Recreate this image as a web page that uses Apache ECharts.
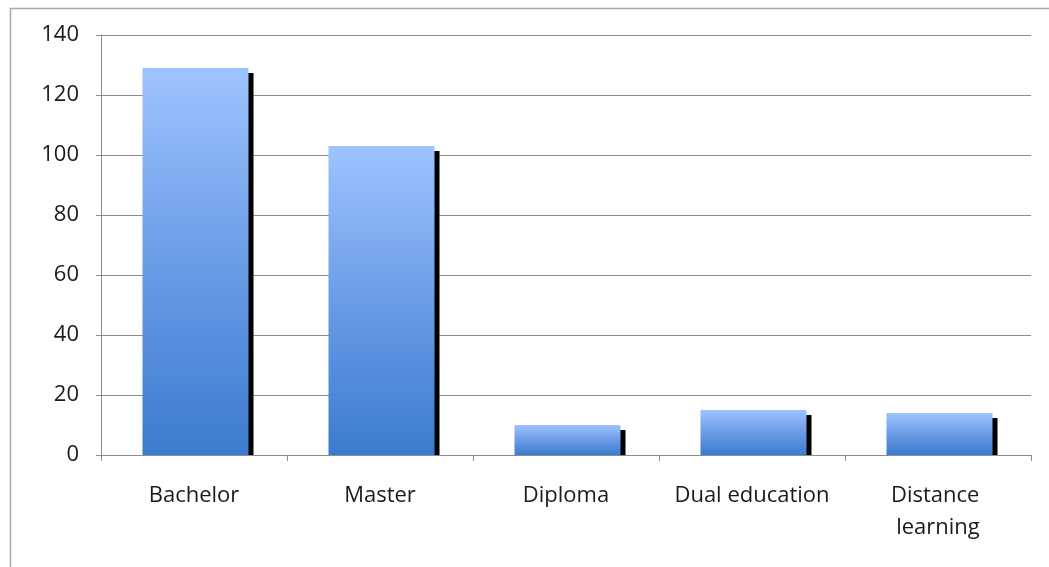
<!DOCTYPE html>
<html>
<head>
<meta charset="utf-8">
<script src="https://cdn.jsdelivr.net/npm/echarts@6/dist/echarts.min.js"></script>
<style>
html,body{margin:0;padding:0;background:#fff;}
#chart{width:1049px;height:567px;}
</style>
</head>
<body>
<div id="chart"></div>
<script>
const categories = ["Bachelor", "Master", "Diploma", "Dual education", "Distance learning"];
const values = [129, 103, 10, 15, 14];
const yTicks = { min: 0, max: 140, interval: 20 };

const chart = echarts.init(document.getElementById('chart'), null, { renderer: 'canvas' });

const FONT = '"Open Sans", Lato, sans-serif';

chart.setOption({
  backgroundColor: '#ffffff',
  animation: false,
  graphic: [{
    type: 'rect',
    left: 8, top: 6,
    shape: { x: 0, y: 0, width: 1100, height: 700 },
    style: { fill: 'none', stroke: '#a8a8a8', lineWidth: 1.5 },
    z: -1, silent: true
  }],
  grid: { left: 101, right: 18, top: 35, bottom: 112, containLabel: false },
  xAxis: {
    type: 'category',
    data: categories,
    boundaryGap: true,
    axisLine: { show: true, lineStyle: { color: '#8c8c8c', width: 1 } },
    axisTick: { show: true, length: 6, lineStyle: { color: '#8c8c8c' } },
    axisLabel: {
      color: '#1a1a1a', fontFamily: FONT, fontSize: 22, margin: 25,
      lineHeight: 32, width: 168, overflow: 'break', interval: 0
    },
    splitLine: { show: false }
  },
  yAxis: {
    type: 'value',
    min: yTicks.min, max: yTicks.max, interval: yTicks.interval,
    axisLine: { show: true, lineStyle: { color: '#8c8c8c', width: 1 } },
    axisTick: { show: true, length: 5, lineStyle: { color: '#8c8c8c' } },
    axisLabel: { color: '#1a1a1a', fontFamily: FONT, fontSize: 22, margin: 22 },
    splitLine: { show: true, lineStyle: { color: '#8c8c8c', width: 1 } }
  },
  series: [{
    type: 'custom',
    data: values.map((v, i) => [i, v]),
    encode: { x: 0, y: 1 },
    renderItem: function (params, api) {
      const i = api.value(0), v = api.value(1);
      const top = api.coord([i, v]);
      const base = api.coord([i, 0]);
      const band = api.size([1, 0])[0];
      const w = band * 0.57;
      const x = top[0] - w / 2 + 1.5;
      const h = base[1] - top[1];
      const sh = 5;
      return {
        type: 'group',
        children: [
          {
            type: 'rect',
            shape: { x: x + sh, y: top[1] + sh, width: w, height: Math.max(0, h - sh) },
            style: { fill: '#000000' }
          },
          {
            type: 'rect',
            shape: { x: x, y: top[1], width: w, height: h },
            style: {
              fill: new echarts.graphic.LinearGradient(0, 0, 0, 1, [
                { offset: 0, color: '#9ec4ff' },
                { offset: 0.5, color: '#6b9ce6' },
                { offset: 1, color: '#3b7bce' }
              ])
            }
          }
        ]
      };
    }
  }]
});
</script>
</body>
</html>
